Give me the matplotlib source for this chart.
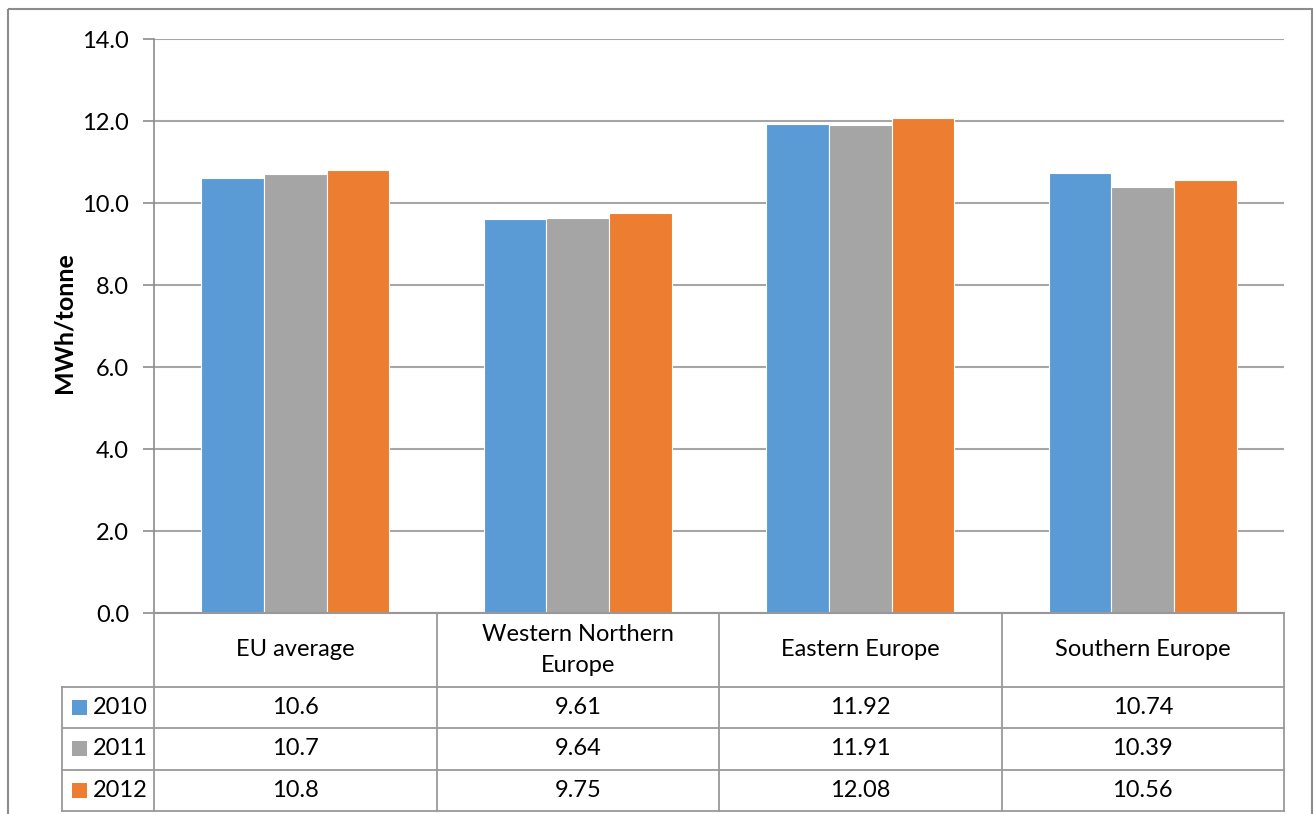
import matplotlib
matplotlib.use("Agg")
import matplotlib.pyplot as plt
from matplotlib.patches import Rectangle
from matplotlib import font_manager
import numpy as np

# Data
regions = ["EU average", "Western Northern\nEurope", "Eastern Europe", "Southern Europe"]
years = ["2010", "2011", "2012"]
values_2010 = [10.6, 9.61, 11.92, 10.74]
values_2011 = [10.7, 9.64, 11.91, 10.39]
values_2012 = [10.8, 9.75, 12.08, 10.56]
y_ticks = [0.0, 2.0, 4.0, 6.0, 8.0, 10.0, 12.0, 14.0]
y_label = "MWh/tonne"

series = [values_2010, values_2011, values_2012]
colors = ["#5B9BD5", "#A5A5A5", "#ED7D31"]

plt.rcParams["font.family"] = ["Lato", "DejaVu Sans"]

# pick a bold face for the axis title
bold_family = ["Lato", "DejaVu Sans"]
lato_weights = {f.weight for f in font_manager.fontManager.ttflist if f.name == "Lato"}
if not any(w in (700, "bold", 800, 900, "heavy", "black") for w in lato_weights):
    bold_family = ["Open Sans", "DejaVu Sans"]

W, H = 1314, 814
fig = plt.figure(figsize=(W / 100, H / 100), dpi=100)

# Plot area in pixels
px_left, px_right, px_top, px_bottom = 154, 1284, 39, 613
ax = fig.add_axes([px_left / W, 1 - px_bottom / H,
                   (px_right - px_left) / W, (px_bottom - px_top) / H])

grid_col = "#A6A6A6"
axis_col = "#8C8C8C"
text_col = "#000000"
fs = 17

n = len(regions)
x = np.arange(n)
bar_w = 0.222
for i, (vals, col) in enumerate(zip(series, colors)):
    ax.bar(x + (i - 1) * bar_w, vals, width=bar_w, color=col,
           edgecolor="white", linewidth=0.8, zorder=3, label=years[i])

ax.set_xlim(-0.5, n - 0.5)
ax.set_ylim(0, 14)
ax.set_yticks(y_ticks)
ax.set_yticklabels([f"{t:.1f}" for t in y_ticks], fontsize=fs, color=text_col)
ax.yaxis.grid(True, color=grid_col, linewidth=1.5, zorder=0)
ax.set_axisbelow(True)
ax.tick_params(axis="y", length=8, width=1.2, color=axis_col, pad=10)
ax.tick_params(axis="x", length=0, labelbottom=False)
for side in ["top", "right"]:
    ax.spines[side].set_visible(False)
ax.spines["left"].set_color(axis_col)
ax.spines["left"].set_linewidth(1.2)
ax.spines["bottom"].set_color(axis_col)
ax.spines["bottom"].set_linewidth(1.5)
ax.spines["bottom"].set_zorder(4)

# Overlay in pixel coordinates for frame, axis title and data table
ov = fig.add_axes([0, 0, 1, 1], zorder=5)
ov.set_xlim(0, W)
ov.set_ylim(H, 0)
ov.axis("off")
ov.patch.set_alpha(0)

# Chart frame
ov.add_patch(Rectangle((8, 9), 1304, 830, fill=False, edgecolor="#8C8C8C",
                       linewidth=1.5, clip_on=False))

# Axis title
ov.text(64, 323, y_label, rotation=90, ha="center", va="center",
        fontsize=fs + 1, fontweight="bold", family=bold_family, color=text_col)

# Data table
tab_col = "#9A9A9A"
lw = 1.3
header_bottom = 687
row_h = 41.3
row_edges = [header_bottom + k * row_h for k in range(len(years) + 1)]
legend_left = 62
col_w = (px_right - px_left) / n
col_edges = [px_left + k * col_w for k in range(n + 1)]

# horizontal lines
ov.plot([px_left, px_right], [px_bottom, px_bottom], color=tab_col, lw=lw)
for ye in row_edges:
    ov.plot([legend_left, px_right], [ye, ye], color=tab_col, lw=lw)
# vertical lines
ov.plot([legend_left, legend_left], [header_bottom, row_edges[-1]], color=tab_col, lw=lw)
for xe in col_edges:
    ov.plot([xe, xe], [px_bottom, row_edges[-1]], color=tab_col, lw=lw)

# header texts
for j, name in enumerate(regions):
    cx = (col_edges[j] + col_edges[j + 1]) / 2
    ov.text(cx, (px_bottom + header_bottom) / 2, name, ha="center", va="center",
            fontsize=fs, color=text_col, linespacing=1.55)

# rows with legend keys
for i, (yr, vals, col) in enumerate(zip(years, series, colors)):
    cy = (row_edges[i] + row_edges[i + 1]) / 2
    ov.add_patch(Rectangle((72, cy - 7.5), 15, 15, facecolor=col, edgecolor="none"))
    ov.text(93, cy, yr, ha="left", va="center", fontsize=fs, color=text_col)
    for j, v in enumerate(vals):
        cx = (col_edges[j] + col_edges[j + 1]) / 2
        ov.text(cx, cy, f"{v:g}", ha="center", va="center", fontsize=fs, color=text_col)

fig.savefig("out.png", dpi=100, facecolor="white")
